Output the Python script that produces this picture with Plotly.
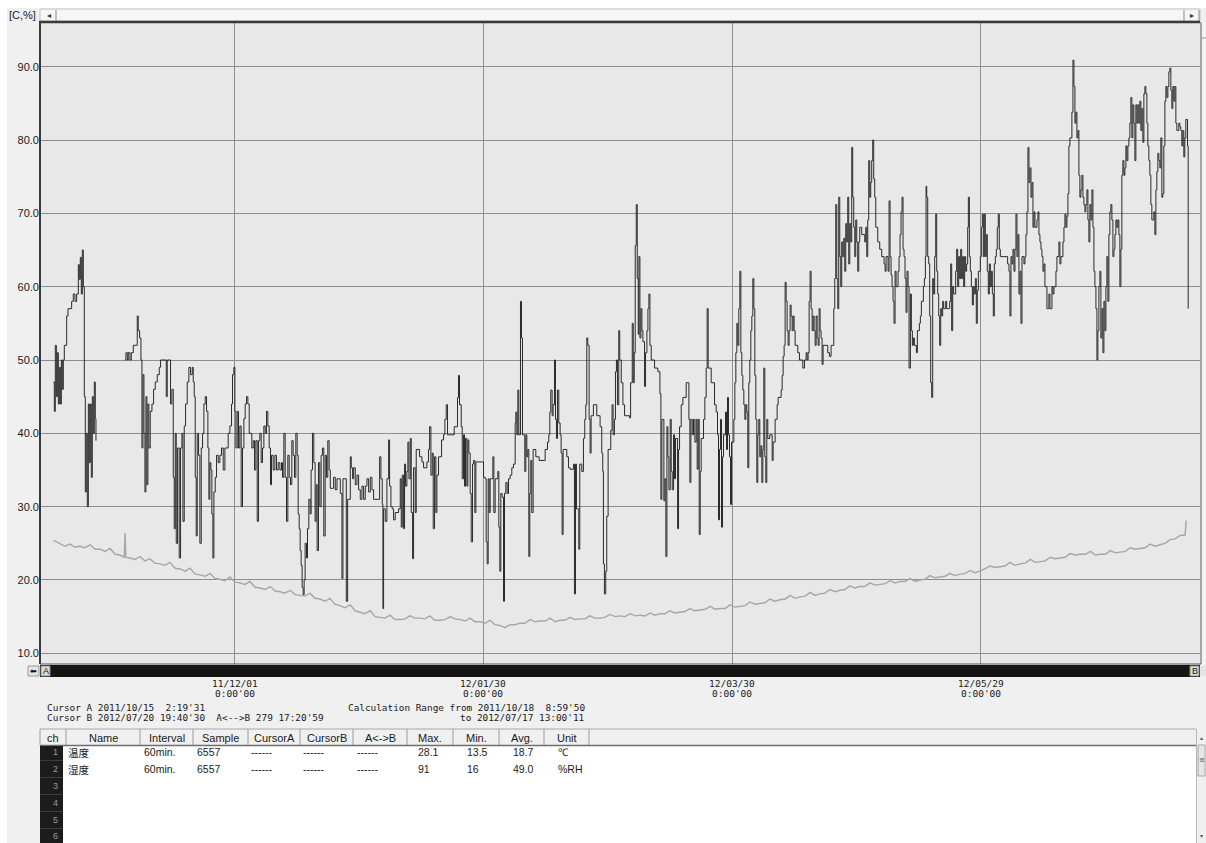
import plotly.graph_objects as go
from datetime import datetime, timedelta

# ---------------- data ----------------
# days are counted from 2011-10-15 00:00
BASE = datetime(2011, 10, 15)

hum_oct_dec = [
    (3.31, 47), (3.55, 43), (3.79, 52), (4.04, 45), (4.28, 51), (4.52, 44), (4.76, 49), (5.00, 44),
    (5.24, 50), (5.48, 46), (5.72, 50), (5.96, 52), (6.53, 56), (6.85, 57), (7.73, 58), (8.13, 59),
    (8.53, 58), (8.93, 59), (9.34, 63), (9.58, 61), (9.82, 64), (10.06, 59), (10.30, 65), (10.54, 60),
    (10.78, 45), (11.02, 32), (11.26, 40), (11.50, 30), (11.75, 44), (11.99, 36), (12.23, 44), (12.47, 34),
    (12.71, 45), (12.95, 40), (13.19, 47), (13.43, 42), (13.59, 39), (13.75, None),
    (20.58, 50), (20.82, 51), (21.14, 50), (21.38, 51), (21.79, 50), (22.11, 51), (22.59, 52), (23.55, 56),
    (23.79, 54), (24.12, 53), (24.44, 50), (24.68, 38), (24.92, 48), (25.16, 40), (25.40, 32), (25.64, 45),
    (25.88, 33), (26.12, 44), (26.36, 38), (26.68, 43), (27.09, 44), (27.49, 46), (27.89, 47), (28.37, 48),
    (28.85, 49), (29.17, 50), (30.54, 45), (30.78, 50), (31.58, 44), (31.90, 46), (32.23, 34), (32.47, 27),
    (32.71, 40), (32.95, 25), (33.27, 38), (33.67, 23), (33.99, 38), (34.32, 40), (34.56, 28), (34.88, 41),
    (35.20, 44), (35.60, 47), (36.00, 49), (36.41, 48), (36.81, 49), (37.05, 47), (37.29, 45), (37.53, 34),
    (37.77, 26), (38.01, 40), (38.33, 37), (38.65, 25), (38.98, 38), (39.30, 40), (39.62, 44), (39.94, 45),
    (40.26, 43), (40.58, 38), (40.82, 31), (41.06, 36), (41.30, 35), (41.54, 29), (41.79, 23), (42.03, 32),
    (42.35, 34), (42.67, 37), (43.07, 36), (43.47, 37), (43.87, 38), (44.28, 35), (44.68, 38), (45.48, 40),
    (45.88, 41), (46.28, 44), (46.52, 48), (46.85, 49), (47.09, 43), (47.33, 38), (47.65, 43), (47.97, 38),
    (48.29, 41), (48.61, 30), (48.93, 38), (49.26, 42), (49.58, 44), (49.90, 45), (50.22, 44), (50.54, 40),
    (51.18, 38), (51.51, 39), (51.83, 35), (52.15, 39), (52.47, 28), (52.79, 39), (53.11, 40), (53.43, 36),
    (53.75, 38), (54.08, 41), (54.40, 40), (54.72, 43), (55.04, 41), (55.36, 38), (55.68, 33), (55.92, 37),
    (56.32, 35), (56.73, 37), (57.13, 35), (57.53, 36), (57.93, 35), (58.33, 36), (58.57, 34), (58.90, 40),
    (59.22, 34), (59.54, 28), (59.86, 37), (60.18, 34), (60.50, 33), (60.82, 39), (61.14, 37), (61.47, 34),
    (61.79, 40), (62.11, 37), (62.35, 29), (62.59, 27), (62.83, 24), (63.07, 22), (63.31, 19), (63.55, 18),
    (63.79, 20), (64.03, 25), (64.36, 23), (64.60, 27), (64.92, 31), (65.24, 29), (65.48, 35), (65.80, 40),
    (66.12, 36), (66.44, 28), (66.69, 33), (66.93, 24), (67.25, 36), (67.57, 30), (67.89, 37), (68.21, 38),
    (68.53, 26), (68.86, 37), (69.18, 34), (69.50, 39), (69.82, 35),
]

hum_dec_feb = [
    (70.10, 32.5), (70.90, 34), (71.30, 32.3), (71.71, 33.8), (72.51, 31.8), (72.91, 20.2), (73.15, 33.8),
    (73.96, 17.1), (74.28, 31), (74.92, 36.8), (75.16, 35.3), (75.48, 33.8), (75.72, 35.3), (76.12, 33),
    (76.53, 34.3), (76.93, 32.3), (77.33, 31), (77.73, 32.8), (78.13, 31), (78.53, 32.8), (78.94, 33.8),
    (79.34, 32), (79.74, 34), (80.14, 32.3), (80.54, 31), (81.99, 36.8), (82.31, 33.8), (82.63, 30.3),
    (82.79, 16.1), (82.95, 29.7), (83.35, 28), (83.75, 33.8), (84.16, 39.1), (84.40, 32.8), (84.72, 30),
    (85.04, 29.7), (85.36, 28.2), (85.76, 29.2), (86.57, 29.7), (86.97, 33.8), (87.21, 27.2), (87.45, 34.3),
    (87.77, 27), (88.01, 35.8), (88.25, 32.8), (88.57, 34.8), (88.81, 38.8), (89.06, 33.8), (89.38, 39.3),
    (89.62, 29.2), (89.94, 22.9), (90.18, 35.3), (90.58, 29.2), (90.82, 37.8), (91.63, 36.8), (92.19, 36.1),
    (92.59, 35.3), (93.39, 36.1), (93.79, 37.8), (94.04, 40.9), (94.36, 34.3), (94.68, 37.3), (94.92, 27),
    (95.24, 36.8), (95.56, 29.2), (95.80, 34.3), (96.20, 36.8), (96.93, 39.1), (97.41, 39.8), (97.73, 41.9),
    (98.05, 43.9), (98.37, 39.8), (99.98, 40.9), (100.78, 44.9), (101.02, 47.9), (101.26, 43.9),
    (101.67, 40.9), (101.91, 33.8), (102.23, 39.8), (102.47, 32.8), (102.71, 39.3), (103.03, 32.8),
    (103.27, 39.1), (103.51, 37.3), (103.83, 31.8), (104.08, 25.2), (104.40, 35.8), (104.64, 36.3),
    (104.96, 29.2), (105.20, 36.1), (107.05, 34), (107.45, 33.8), (107.69, 25.2), (107.93, 22.2),
    (108.17, 33.8), (108.41, 29.2), (108.65, 33.8), (109.30, 36.8), (109.54, 29.2), (109.86, 33.8),
    (110.50, 34.8), (110.74, 27.2), (110.98, 21.2), (111.22, 31.8), (111.54, 31.3), (111.87, 17.1),
    (112.11, 31.8), (112.43, 33.3), (112.75, 31.8), (113.07, 33.8), (113.47, 34.3), (113.87, 35.3),
    (114.28, 35.8), (114.68, 41.4), (114.84, 42.9), (115.08, 39.8), (115.32, 45.9), (115.56, 39.8),
    (115.96, 58), (116.20, 53), (116.44, 39.8), (117.00, 34.8), (117.25, 39.8), (117.49, 36.8),
    (117.73, 37.8), (117.97, 23.2), (118.21, 31.8), (118.45, 36.3), (118.69, 29.2), (119.01, 37.8),
    (119.66, 36.8), (120.46, 36.3), (121.91, 37.8), (122.47, 38.8), (122.79, 39.8), (123.03, 42.9),
    (123.27, 45.9), (123.59, 42.4), (123.83, 43.9), (124.16, 50), (124.40, 41.9), (124.64, 39.3),
    (124.88, 45.9), (125.20, 41.4), (125.52, 39.8), (125.76, 37.3), (126.00, 26.2), (126.24, 37.8),
    (127.13, 36.8), (127.53, 35.3), (127.93, 35.1), (128.73, 35.8), (128.97, 18.1), (129.22, 35.8),
    (129.46, 29.7), (130.02, 24.2), (130.26, 35.8), (130.74, 34.8), (131.14, 39.3), (131.46, 41.9),
    (131.71, 43.9), (131.95, 53), (132.19, 52), (132.51, 41.9), (132.75, 37.3), (132.99, 42.4),
    (133.55, 43.9), (134.36, 42.4), (135.16, 40.9), (135.56, 37.3), (135.80, 34.8), (135.96, 22.2),
    (136.20, 18.1), (136.52, 21.2), (136.76, 28.7), (137.09, 37.8), (137.73, 40.4), (138.05, 43.9),
    (138.29, 39.8), (138.61, 41.9), (138.86, 48.4), (139.10, 50), (139.34, 43.9), (139.66, 54), (139.90, 50),
]

hum_mar_may = [
    (140.26, 46.9), (140.66, 43.9), (141.06, 42.4), (142.27, 42.1), (142.51, 46.9), (142.91, 55),
    (143.15, 46.9), (143.39, 51), (143.63, 65.6), (143.88, 71.2), (144.12, 61.1), (144.36, 53.5),
    (144.52, 64.1), (144.76, 53), (145.00, 57), (145.24, 54), (145.48, 52.5), (145.88, 46.4), (146.12, 51),
    (146.45, 54), (146.69, 57), (146.93, 59), (147.17, 52), (147.49, 50), (148.29, 48.9), (149.10, 48.4),
    (149.58, 45.4), (149.82, 31), (150.06, 41.9), (150.54, 30.8), (150.78, 33.8), (151.02, 23.2),
    (151.27, 40.9), (151.51, 36.8), (151.75, 32.3), (152.07, 41.9), (152.31, 34.8), (152.55, 32.3),
    (152.87, 39.8), (153.11, 33.8), (153.35, 39.3), (153.84, 27), (154.08, 37.8), (154.32, 40.9),
    (154.72, 43.9), (155.12, 44.9), (155.92, 46.9), (156.57, 41.9), (156.81, 33.3), (157.05, 41.9),
    (157.37, 39.8), (157.69, 41.9), (158.01, 38.8), (158.33, 41.9), (158.57, 35.1), (158.82, 41.9),
    (159.06, 26.2), (159.30, 34.8), (159.54, 39.3), (160.10, 41.9), (160.42, 44.9), (160.74, 48.9),
    (160.98, 57), (161.22, 48.9), (161.95, 46.9), (162.75, 43.9), (163.15, 42.9), (163.47, 39.8),
    (163.71, 28.2), (163.95, 37.8), (164.19, 41.9), (164.44, 27.2), (164.68, 36.8), (164.92, 39.8),
    (165.40, 42.9), (165.64, 37.8), (165.88, 44.9), (166.12, 39.8), (166.36, 36.8), (166.61, 30.3),
    (166.85, 38.8), (167.41, 41.9), (167.65, 46.9), (167.89, 51), (168.13, 55), (168.37, 52), (168.61, 57),
    (168.86, 62.1), (169.10, 51), (169.34, 47.9), (169.58, 45.9), (169.82, 43.9), (170.06, 41.9),
    (170.30, 43.9), (170.54, 42.9), (170.78, 35.3), (171.02, 46.9), (171.26, 50), (171.51, 54), (171.75, 56),
    (171.99, 61.1), (172.23, 57), (172.47, 47.9), (172.71, 41.9), (172.95, 33.3), (173.19, 39.8),
    (173.43, 41.9), (173.67, 36.8), (173.92, 38.3), (174.16, 33.3), (174.40, 37.8), (174.64, 48.9),
    (174.88, 36.8), (175.12, 33.3), (175.36, 41.9), (175.60, 39.3), (176.08, 39.8), (176.65, 36.3),
    (176.89, 38.8), (177.37, 41.9), (177.85, 43.9), (178.09, 44.9), (178.82, 45.9), (179.06, 47.9),
    (179.30, 50.5), (179.54, 52), (179.78, 60.6), (180.02, 58), (180.26, 54), (180.50, 52), (180.74, 54),
    (180.98, 57.5), (181.22, 56), (181.47, 54), (181.71, 56), (181.95, 54), (182.19, 52), (182.83, 51),
    (183.23, 50), (184.04, 48.9), (184.44, 50), (184.84, 51), (185.08, 50), (185.32, 51), (185.56, 58),
    (185.80, 62.1), (186.04, 57), (186.29, 54), (186.53, 56), (186.77, 54), (187.01, 52), (187.25, 56),
    (187.49, 53), (187.73, 52), (187.97, 57), (188.21, 54), (188.45, 53), (188.69, 49.4), (188.93, 52),
    (190.06, 51), (190.46, 50.5), (190.86, 52), (191.51, 57), (191.75, 61.1), (191.99, 71.2), (192.23, 61.1),
    (192.47, 57), (192.71, 72.2), (192.95, 64.1), (193.19, 60), (193.43, 66.1), (193.67, 64.1),
    (193.92, 66.6), (194.16, 62.1), (194.40, 68.6), (194.64, 66.1), (194.88, 72.2), (195.12, 63.1),
    (195.36, 68.6), (195.60, 66.1), (195.84, 79), (196.08, 72.2), (196.32, 68.1), (196.57, 64.1),
    (196.81, 69.1), (197.05, 66.1), (197.29, 62.1), (197.53, 66.1), (197.77, 68.1), (198.25, 67.1),
    (198.98, 66.1), (199.22, 68.1), (199.46, 64.1), (199.70, 69.1), (199.94, 77.2), (200.18, 72.2),
    (200.42, 74.2), (200.66, 77.2), (200.90, 80), (201.14, 74.7), (201.38, 72.2), (201.63, 68.1),
    (202.11, 66.1), (202.59, 65.1), (203.07, 64.1), (203.64, 63.1), (203.88, 62.1), (204.12, 64.1),
    (204.60, 62.1), (204.84, 71.7), (205.08, 64.1), (205.32, 61.6), (205.56, 60), (205.80, 58), (206.04, 55),
    (206.29, 62.1), (206.53, 60), (207.01, 62.1), (207.25, 64.1), (207.49, 67.1), (207.73, 70.2),
    (207.97, 72.2), (208.21, 65.1), (208.45, 64.1), (208.69, 61.1), (208.93, 56.5), (209.17, 62.1),
    (209.42, 60), (209.66, 48.9),
]

hum_may_jul = [
    (209.98, 59), (210.22, 54), (210.46, 52), (210.70, 53), (210.94, 52), (211.43, 51), (211.67, 54),
    (212.15, 55), (212.39, 56), (212.63, 58), (213.11, 60), (213.35, 61.1), (213.60, 64.1), (213.76, 73.7),
    (213.92, 72.2), (214.16, 64.1), (214.40, 63.1), (214.64, 56), (214.88, 46.9), (215.12, 44.9),
    (215.36, 61.1), (215.60, 59), (215.84, 64.1), (216.09, 69.9), (216.33, 62.1), (216.57, 59), (216.81, 56),
    (217.05, 52), (217.29, 57), (217.53, 56), (217.77, 58), (218.01, 57), (218.49, 58), (218.73, 57),
    (219.46, 58), (219.70, 63.1), (219.94, 54), (220.18, 60), (220.42, 59), (220.90, 62.1), (221.14, 65.1),
    (221.39, 60), (221.63, 64.1), (221.87, 61.1), (222.11, 65.1), (222.35, 61.1), (222.59, 64.1),
    (222.83, 60), (223.07, 64.1), (223.31, 62.1), (223.55, 63.1), (223.80, 68.1), (223.96, 72.2),
    (224.20, 64.1), (224.44, 62.1), (224.68, 60), (224.92, 57.5), (225.16, 60), (225.40, 59), (225.64, 61.1),
    (225.88, 55), (226.12, 59.5), (226.37, 62.1), (226.85, 64.1), (227.09, 68.1), (227.33, 69.9),
    (227.57, 64.1), (227.81, 69.9), (228.05, 64.1), (228.29, 67.1), (228.53, 62.1), (228.77, 59),
    (229.02, 63.1), (229.26, 60), (229.50, 62.1), (229.74, 59), (229.98, 56), (230.22, 63.1), (230.46, 64.1),
    (230.70, 65.1), (230.94, 68.1), (231.18, 69.9), (231.42, 65.1), (231.67, 64.1), (233.43, 63.1),
    (233.75, 62.1), (233.99, 56), (234.24, 64.1), (234.48, 63.1), (234.72, 65.1), (234.96, 62.1),
    (235.20, 65.1), (235.44, 69.9), (235.68, 64.1), (235.92, 67.1), (236.16, 59), (236.41, 62.1),
    (236.65, 55), (236.89, 64.1), (237.37, 63.1), (237.61, 64.1), (237.85, 67.1), (238.09, 70.2),
    (238.33, 79), (238.57, 74.2), (238.81, 76.2), (239.06, 72.2), (239.30, 74.2), (239.54, 68.1),
    (239.78, 70.2), (240.02, 68.1), (240.50, 69.1), (240.74, 70.2), (240.98, 67.1), (241.22, 66.1),
    (241.47, 65.1), (241.71, 64.1), (241.95, 62.1), (242.19, 63.1), (242.43, 60), (242.91, 57), (243.39, 59),
    (243.63, 57), (244.12, 60), (244.36, 59), (244.60, 60), (245.08, 62.1), (245.32, 64.1), (245.80, 66.1),
    (246.04, 63.1), (246.28, 64.1), (246.77, 66.1), (247.01, 68.1), (247.25, 69.9), (247.49, 68.1),
    (247.73, 69.6), (247.97, 72.7), (248.21, 79.2), (248.45, 80.3), (248.93, 83.8), (249.18, 90.9),
    (249.42, 87.3), (249.66, 82.3), (249.90, 83.8), (250.14, 80.3), (250.38, 81.3), (250.62, 75.2),
    (250.86, 72.2), (251.10, 73.2), (251.35, 75.2), (251.59, 72.2), (251.83, 71.2), (252.07, 70.2),
    (252.31, 71.2), (252.55, 73.2), (252.79, 69.1), (253.03, 66.1), (253.27, 71.2), (253.51, 69.1),
    (253.76, 73.2), (254.00, 68.1), (254.24, 62.1), (254.48, 60), (254.72, 57), (254.96, 50), (255.20, 54),
    (255.44, 60), (255.68, 62.1), (255.92, 53), (256.17, 57), (256.41, 51), (256.65, 58), (256.89, 54),
    (257.13, 60), (257.37, 64.1), (257.61, 58), (257.85, 67.1), (258.09, 70.2), (258.33, 71.2),
    (258.57, 69.1), (258.82, 64.1), (259.06, 65.1), (259.30, 67.1), (259.54, 69.1), (259.78, 68.1),
    (260.02, 69.1), (260.26, 67.1), (260.50, 60), (260.74, 65.1), (260.98, 75.2), (261.22, 77.2),
    (261.47, 75.2), (261.71, 76.2), (261.95, 79.2), (262.19, 77.2), (262.43, 79.2), (262.67, 80.3),
    (262.91, 82.3), (263.15, 85.8), (263.39, 80.3), (263.63, 84.8), (263.87, 82.3), (264.12, 77.2),
    (264.36, 84.8), (264.60, 82.3), (264.84, 84.8), (265.08, 82.3), (265.32, 85.3), (265.56, 81.3),
    (265.80, 84.3), (266.04, 79.7), (266.29, 86.3), (266.53, 87.3), (266.77, 86.3), (267.01, 82.3),
    (267.25, 79.2), (267.49, 77.2), (267.73, 75.2), (267.97, 71.2), (268.21, 69.1), (268.69, 70.2),
    (268.94, 67.1), (269.18, 73.2), (269.42, 75.7), (269.66, 78.2), (269.90, 77.2), (270.14, 76.2),
    (270.38, 80.3), (270.62, 72.2), (270.86, 72.7), (271.10, 79.2), (271.35, 85.3), (271.59, 87.3),
    (271.83, 85.8), (272.07, 87.3), (272.31, 89.3), (272.55, 89.8), (272.79, 86.8), (273.03, 84.3),
    (273.27, 87.3), (273.51, 85.3), (273.76, 87.3), (274.00, 82.3), (274.24, 81.3), (274.72, 82.3),
    (274.96, 81.8), (275.20, 81.3), (275.44, 79.2), (275.68, 81.3), (275.92, 77.7), (276.16, 80.3),
    (276.40, 82.8), (276.81, 79.2), (276.97, 57),
]

temp_points = [
    (3.4, 25.4), (4.9, 24.9), (6.1, 24.6), (7.3, 24.9), (8.5, 24.5), (9.7, 24.6), (10.9, 24.4), (12.2, 24.8),
    (13.4, 24.2), (14.6, 24.2), (15.8, 23.9), (17.0, 24.3), (18.2, 23.5), (19.4, 23.4), (20.4, 23.1),
    (20.6, 26.4), (20.8, 23.1), (21.8, 23.0), (23.0, 22.8), (24.2, 23.2), (25.4, 22.6), (26.6, 22.9),
    (27.8, 22.3), (29.0, 22.2), (30.2, 22.0), (31.4, 22.4), (32.7, 21.6), (33.9, 21.5), (35.1, 21.2),
    (36.3, 21.6), (37.5, 20.8), (38.7, 20.7), (39.9, 20.5), (41.1, 20.9), (42.3, 20.2), (43.5, 20.1),
    (44.7, 19.9), (45.9, 20.4), (47.1, 19.7), (48.3, 19.6), (49.5, 19.4), (50.7, 19.8), (52.0, 19.0),
    (53.2, 18.9), (54.4, 18.7), (55.6, 19.1), (56.8, 18.5), (58.0, 18.4), (59.2, 18.2), (60.4, 18.6),
    (61.6, 18.0), (62.8, 17.9), (64.0, 17.8), (65.2, 18.2), (66.4, 17.5), (67.6, 17.4), (68.8, 17.1),
    (70.0, 17.5), (71.2, 16.7), (72.4, 16.5), (73.6, 16.2), (74.9, 16.6), (76.1, 15.8), (77.3, 15.6),
    (78.5, 15.4), (79.7, 15.8), (80.9, 15.0), (82.1, 14.9), (83.3, 14.8), (84.5, 15.2), (85.7, 14.6),
    (86.9, 14.6), (88.1, 14.7), (89.3, 15.1), (90.5, 14.8), (91.7, 14.8), (92.9, 14.7), (94.1, 15.1),
    (95.3, 14.5), (96.6, 14.5), (97.8, 14.6), (99.0, 15.0), (100.2, 14.7), (101.4, 14.6), (102.6, 14.4),
    (103.8, 14.8), (105.0, 14.3), (106.2, 14.3), (107.4, 14.1), (108.6, 14.5), (109.8, 13.9), (111.0, 13.8),
    (112.2, 13.5), (113.4, 13.9), (114.6, 13.9), (115.8, 14.1), (117.0, 14.1), (118.3, 14.6), (119.5, 14.3),
    (120.7, 14.4), (121.9, 14.4), (123.1, 14.8), (124.3, 14.3), (125.5, 14.5), (126.7, 14.5), (127.9, 14.9),
    (129.1, 14.6), (130.3, 14.7), (131.5, 14.7), (132.7, 15.1), (133.9, 14.8), (135.1, 14.8), (136.3, 14.9),
    (137.5, 15.3), (138.8, 15.0), (140.0, 15.1), (141.2, 15.0), (142.4, 15.4), (143.6, 15.1), (144.8, 15.2),
    (146.0, 15.1), (147.2, 15.5), (148.4, 15.2), (149.6, 15.4), (150.8, 15.4), (152.0, 15.8), (153.2, 15.5),
    (154.4, 15.6), (155.6, 15.7), (156.8, 16.1), (158.0, 15.8), (159.3, 15.9), (160.5, 16.0), (161.7, 16.4),
    (162.9, 16.0), (164.1, 16.1), (165.3, 16.1), (166.5, 16.6), (167.7, 16.3), (168.9, 16.4), (170.1, 16.5),
    (171.3, 17.0), (172.5, 16.7), (173.7, 16.8), (174.9, 16.9), (176.1, 17.4), (177.3, 17.1), (178.5, 17.3),
    (179.8, 17.4), (181.0, 17.9), (182.2, 17.5), (183.4, 17.7), (184.6, 17.8), (185.8, 18.3), (187.0, 17.9),
    (188.2, 18.1), (189.4, 18.2), (190.6, 18.7), (191.8, 18.4), (193.0, 18.6), (194.2, 18.7), (195.4, 19.2),
    (196.6, 18.9), (197.8, 19.1), (199.0, 19.1), (200.2, 19.6), (201.5, 19.3), (202.7, 19.4), (203.9, 19.5),
    (205.1, 19.9), (206.3, 19.6), (207.5, 19.8), (208.7, 19.8), (209.9, 20.2), (211.1, 19.8), (212.3, 20.0),
    (213.5, 20.1), (214.7, 20.6), (215.9, 20.3), (217.1, 20.4), (218.3, 20.5), (219.5, 20.9), (220.7, 20.6),
    (222.0, 20.8), (223.2, 20.9), (224.4, 21.3), (225.6, 21.0), (226.8, 21.2), (228.0, 21.5), (229.2, 21.9),
    (230.4, 21.7), (231.6, 21.8), (232.8, 21.9), (234.0, 22.4), (235.2, 22.0), (236.4, 22.2), (237.7, 22.3),
    (238.9, 22.8), (240.1, 22.4), (241.3, 22.5), (242.5, 22.6), (243.7, 23.1), (244.9, 22.9), (246.1, 23.0),
    (247.3, 23.1), (248.5, 23.6), (249.7, 23.4), (250.9, 23.5), (252.2, 23.5), (253.4, 23.9), (254.6, 23.4),
    (255.8, 23.5), (257.0, 23.5), (258.2, 24.0), (259.4, 23.7), (260.6, 23.8), (261.8, 23.9), (263.0, 24.4),
    (264.2, 24.2), (265.4, 24.3), (266.6, 24.4), (267.8, 24.9), (269.0, 24.6), (270.2, 24.8), (271.4, 25.0),
    (272.6, 25.5), (273.8, 25.6), (275.1, 26.1), (276.2, 26.1), (276.5, 28.1),
]

x_tick_dates = ["2011-12-01", "2012-01-30", "2012-03-30", "2012-05-29"]
x_tick_labels = ["11/12/01", "12/01/30", "12/03/30", "12/05/29"]
x_tick_sub = "0:00'00"
y_tick_vals = [10, 20, 30, 40, 50, 60, 70, 80, 90]
y_tick_text = ["10.0", "20.0", "30.0", "40.0", "50.0", "60.0", "70.0", "80.0", "90.0"]
x_range = ["2011-10-15 02:19:31", "2012-07-20 19:40:30"]

table_headers = ["ch", "Name", "Interval", "Sample", "CursorA", "CursorB", "A<->B", "Max.", "Min.", "Avg.", "Unit"]
ch_names = ["温度", "湿度"]
ch_interval = ["60min.", "60min."]
ch_sample = ["6557", "6557"]
ch_cursor_a = ["------", "------"]
ch_cursor_b = ["------", "------"]
ch_ab = ["------", "------"]
ch_max = ["28.1", "91"]
ch_min = ["13.5", "16"]
ch_avg = ["18.7", "49.0"]
ch_unit = ["℃", "%RH"]
ch_numbers = ["1", "2", "3", "4", "5", "6"]

cursor_a_text = "Cursor A 2011/10/15  2:19'31"
cursor_b_text = "Cursor B 2012/07/20 19:40'30  A<-->B 279 17:20'59"
calc_from_text = "Calculation Range from 2011/10/18  8:59'50"
calc_to_text = "to 2012/07/17 13:00'11"
axis_unit_text = "[C,%]"

# ---------------- helpers ----------------
W, H = 1206, 843


def px(x):
    return x / W


def py(y):
    return 1 - y / H


def to_dt(d):
    return BASE + timedelta(days=d)


def nb(s):
    return s.replace(" ", "\u00a0")


hum_all = hum_oct_dec + hum_dec_feb + hum_mar_may + hum_may_jul
hum_x = [to_dt(d) for d, v in hum_all]
hum_y = [v for d, v in hum_all]
temp_x = [to_dt(d) for d, v in temp_points]
temp_y = [v for d, v in temp_points]

MONO = "DejaVu Sans Mono"
SANS = "Liberation Sans"
JP = "Noto Sans CJK JP"
TXT = "#1a1a1a"

PL, PR, PT, PB = 40, 1200, 22, 664   # plot area in px
Y90, Y10 = 66.7, 653.3
ppu = (Y10 - Y90) / 80.0
y_top = 90 + (Y90 - PT) / ppu
y_bot = 10 - (PB - Y10) / ppu

fig = go.Figure()
fig.add_trace(go.Scatter(x=temp_x, y=temp_y, mode="lines",
                         line=dict(color="#a6a6a6", width=1.4), name="温度", hoverinfo="x+y"))
fig.add_trace(go.Scatter(x=hum_x, y=hum_y, mode="lines", connectgaps=False,
                         line=dict(color="#2a2a2a", width=1, shape="hv"), name="湿度", hoverinfo="x+y"))

shapes = []
annotations = []


def rect(x0, y0, x1, y1, fill, line=None, lw=1):
    shapes.append(dict(type="rect", xref="paper", yref="paper", x0=px(x0), x1=px(x1), y0=py(y1), y1=py(y0),
                       fillcolor=fill, line=dict(color=line or fill, width=lw if line else 0), layer="above"))


def hline(x0, x1, y, color, w=1):
    shapes.append(dict(type="line", xref="paper", yref="paper", x0=px(x0), x1=px(x1), y0=py(y), y1=py(y),
                       line=dict(color=color, width=w), layer="above"))


def vline(x, y0, y1, color, w=1):
    shapes.append(dict(type="line", xref="paper", yref="paper", x0=px(x), x1=px(x), y0=py(y0), y1=py(y1),
                       line=dict(color=color, width=w), layer="above"))


def text(x, y, s, size=10, family=SANS, color=TXT, anchor="left"):
    annotations.append(dict(xref="paper", yref="paper", x=px(x), y=py(y), text=nb(s), showarrow=False,
                            xanchor=anchor, yanchor="middle", font=dict(size=size, family=family, color=color),
                            borderpad=0))


# white frame at top / left of the window
rect(0, 0, 1206, 8, "#ffffff")
rect(0, 0, 7, 843, "#ffffff")

# top scroll strip
rect(40, 9, 1200, 21, "#f6f6f6", "#c4c4c4")
vline(56, 10, 21, "#8a8a8a")
vline(1184, 10, 21, "#8a8a8a")
vline(1199, 10, 21, "#8a8a8a")
text(49, 15.5, "◂", 8, SANS, "#333", "center")
text(1192, 15.5, "▸", 8, SANS, "#333", "center")
text(8, 15, axis_unit_text, 11, SANS, TXT)

# plot frame
hline(PL - 1, PR, PT, "#3a3a3a", 2.5)
vline(PL, PT, PB, "#3a3a3a", 2)
vline(PR + 1, PT, PB, "#5a5a5a", 1)
hline(PL, PR + 1, PB, "#555555", 1)
# right narrow strip
rect(1202, 22, 1206, 664, "#f4f4f4")
hline(1202, 1206, 38, "#999999")

# black bar with cursor flags
rect(PL, 665, PR, 677, "#141414")
rect(41, 666, 50, 676, "#dcdcdc", "#888888")
text(45.5, 671, "A", 9, SANS, "#111", "center")
rect(1190, 666, 1199, 676, "#dcdcdc", "#888888")
text(1194.5, 671, "B", 9, SANS, "#111", "center")
rect(28, 666, 39, 676, "#e4e4e4", "#9a9a9a")
text(33.5, 671, "⬅", 8, "DejaVu Sans", "#111", "center")
rect(1200, 666, 1206, 676, "#e4e4e4")

# x tick labels (two lines) tied to the date axis
for d, lab in zip(x_tick_dates, x_tick_labels):
    annotations.append(dict(xref="x", yref="paper", x=d, y=py(683), text=lab, showarrow=False,
                            xanchor="center", yanchor="middle", font=dict(size=9.5, family=MONO, color=TXT)))
    annotations.append(dict(xref="x", yref="paper", x=d, y=py(693.5), text=x_tick_sub, showarrow=False,
                            xanchor="center", yanchor="middle", font=dict(size=9.5, family=MONO, color=TXT)))

# cursor information
text(46, 707, cursor_a_text, 9.4, MONO)
text(46, 717, cursor_b_text, 9.4, MONO)
text(347, 707, calc_from_text, 9.4, MONO)
text(586, 717, calc_to_text, 9.4, MONO, TXT, "right")

# table header
col_edges = [40, 66, 140, 193, 248, 300, 353, 407, 453, 499, 544, 589]
rect(40, 729, 1196, 745, "#f0f0f0")
hline(40, 1196, 729, "#a8a8a8")
for xe in col_edges:
    vline(xe, 729, 745, "#9c9c9c")
for i, lab in enumerate(table_headers):
    text((col_edges[i] + col_edges[i + 1]) / 2, 737.5, lab, 11, SANS, TXT, "center")

# table body
rect(40, 745, 1196, 843, "#ffffff")
hline(40, 1196, 745.5, "#6e6e6e", 1.5)
rect(40, 746, 63, 843, "#1c1c1c")
for i, n in enumerate(ch_numbers):
    yy = 752 + 17 * i
    hline(40, 63, yy + 8.5, "#3c3c3c")
    text(56, min(yy, 836), n, 9, SANS, "#9a9a9a", "center")

col_x = [67, 143, 196, 250, 302, 356, 417, 466, 512, 557]
for r in range(len(ch_names)):
    yy = 752 + 17 * r
    row = [ch_names[r], ch_interval[r], ch_sample[r], ch_cursor_a[r], ch_cursor_b[r], ch_ab[r],
           ch_max[r], ch_min[r], ch_avg[r], ch_unit[r]]
    for j, val in enumerate(row):
        fam = JP if j == 0 else SANS
        text(col_x[j], yy, val, 10.5, fam, TXT)

# right scrollbar of table
rect(1196, 729, 1206, 843, "#f0f0f0")
vline(1196.5, 729, 843, "#b8b8b8")
rect(1198, 745, 1205, 776, "#e6e6e6", "#a8a8a8")
text(1201.5, 760, "≡", 7, "DejaVu Sans", "#555", "center")
text(1201.5, 737, "▴", 6, "DejaVu Sans", "#555", "center")
text(1201.5, 835, "▾", 6, "DejaVu Sans", "#555", "center")

fig.update_layout(
    width=W, height=H, autosize=False,
    margin=dict(l=0, r=0, t=0, b=0, pad=0),
    paper_bgcolor="#f0f0f0",
    plot_bgcolor="#e8e8e8",
    showlegend=False,
    shapes=shapes,
    annotations=annotations,
    xaxis=dict(domain=[px(PL), px(PR)], type="date", range=x_range,
               tickvals=x_tick_dates, showticklabels=False, ticks="",
               showgrid=True, gridcolor="#8e8e8e", gridwidth=1, zeroline=False, showline=False,
               fixedrange=True),
    yaxis=dict(domain=[py(PB), py(PT)], range=[y_bot, y_top],
               tickvals=y_tick_vals, ticktext=y_tick_text, ticks="",
               tickfont=dict(size=11, family=SANS, color=TXT),
               showgrid=True, gridcolor="#8e8e8e", gridwidth=1, zeroline=False, showline=False,
               fixedrange=True),
)

fig.write_html("out.html", config={"displayModeBar": False},
               post_script="document.body.style.margin='0px';document.body.style.overflow='hidden';")
